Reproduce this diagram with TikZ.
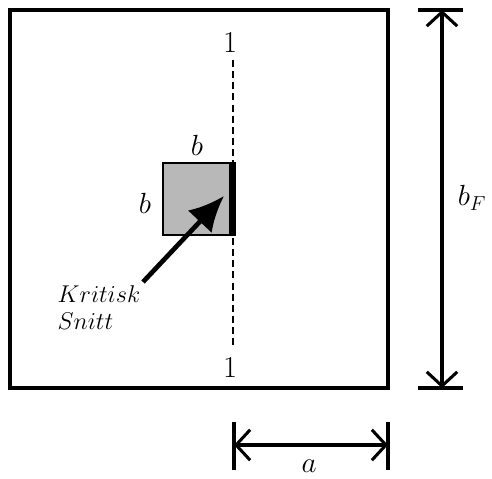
\documentclass[tikz,border=0pt]{standalone}
\usetikzlibrary{arrows.meta}
\begin{document}
\begin{tikzpicture}[x=0.03cm, y=-0.03cm, line width=2.8pt,
    dimline/.style={{Straight Barb[length=12pt,width=26pt]}-{Straight Barb[length=12pt,width=26pt]}, line width=2.6pt},
    lbl/.style={font=\fontsize{26}{30}\selectfont, inner sep=0pt},
    note/.style={font=\fontsize{20}{23}\selectfont, inner sep=0pt, align=left}]
    \useasboundingbox (0,0) rectangle (492,479);
    % Foundation plate
    \draw (10,10) rectangle (388,388);

    % Column
    \draw[fill=black!28, line width=2.4pt] (163,163) rectangle (233,235);
    \fill (229,162) rectangle (236,236);

    % Section line 1-1
    \node[lbl] (secTop) at (230,42) {1};
    \node[lbl] (secBot) at (230,367) {1};
    \coordinate (cutTop) at (233,60);
    \coordinate (cutBot) at (233,347);
    \draw[line width=2pt, dash pattern=on 6pt off 3.5pt] (cutTop) -- (cutBot);

    % Column sides
    \node[lbl] (bTop) at (197,145) {$b$};
    \node[lbl] (bLeft) at (145,203) {$b$};

    % Critical section
    \node[note, anchor=west] (krit) at (56,308) {$Kritisk$\\$Snitt$};
    \coordinate (tail) at (143,282);
    \coordinate (tip) at (224,196);
    \draw[-{Latex[length=30pt,width=28pt]}, line width=4pt] (tail) -- (tip);

    % Width b_F
    \coordinate (bFtop) at (442,10);
    \coordinate (bFbot) at (442,388);
    \draw (418,10) -- (463,10);
    \draw (418,388) -- (463,388);
    \draw[dimline] (bFtop) -- (bFbot);
    \node[lbl] (bF) at (472,198) {$b_F$};

    % Distance a
    \coordinate (aLeft) at (234,445);
    \coordinate (aRight) at (388,445);
    \draw (234,422) -- (234,470);
    \draw (388,422) -- (388,470);
    \draw[dimline] (aLeft) -- (aRight);
    \node[lbl] (a) at (309,466) {$a$};
\end{tikzpicture}
\end{document}
